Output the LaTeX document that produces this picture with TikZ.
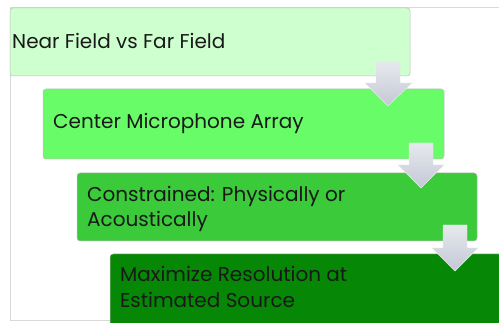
\documentclass[tikz,border=0pt]{standalone}
\usepackage{fontspec}
\setmainfont{Poppins}
\begin{document}
\begin{tikzpicture}[x=1pt,y=-1pt,
  stepbox/.style={draw=black!25, line width=0.5pt, rounded corners=3pt},
  lbl/.style={anchor=base west, inner sep=0pt, font=\fontsize{20}{24}\selectfont, text=black!90},
  downarrow/.style={draw=white!85!gray, line width=0.4pt, top color={rgb,255:red,230;green,233;blue,236}, bottom color={rgb,255:red,196;green,200;blue,214}}]
\useasboundingbox (0,0) rectangle (499,323);
\fill[white] (0,0) rectangle (499,323);
% frame
\draw[black!15, line width=0.8pt] (499,7) -- (10,7) -- (10,320) -- (110,320);
% boxes
\path[stepbox, fill={rgb,255:red,206;green,255;blue,206}] (10,8) rectangle (410,76);
\path[stepbox, fill={rgb,255:red,104;green,252;blue,104}] (43,89) rectangle (444,159);
\path[stepbox, fill={rgb,255:red,58;green,202;blue,58}] (77,173) rectangle (477,241);
\path[stepbox, fill={rgb,255:red,6;green,136;blue,6}] (110,254) rectangle (505,326);
% labels
\node[lbl] (t1) at (12,49) {Near Field vs Far Field};
\node[lbl] (t2) at (53,129) {Center Microphone Array};
\node[lbl] (t3) at (87,202) {Constrained: Physically or};
\node[lbl] (t3b) at (87,227) {Acoustically};
\node[lbl] (t4) at (120,282) {Maximize Resolution at};
\node[lbl] (t4b) at (120,308) {Estimated Source};
% arrows
\path[downarrow] (376,62) -- (400,62) -- (400,83) -- (412,83) -- (388,106) -- (365,83) -- (376,83) -- cycle;
\path[downarrow] (409,143) -- (433,143) -- (433,165) -- (444,165) -- (421,188) -- (398,165) -- (409,165) -- cycle;
\path[downarrow] (443,225) -- (467,225) -- (467,248) -- (478,248) -- (455,271) -- (432,248) -- (443,248) -- cycle;
\end{tikzpicture}
\end{document}
